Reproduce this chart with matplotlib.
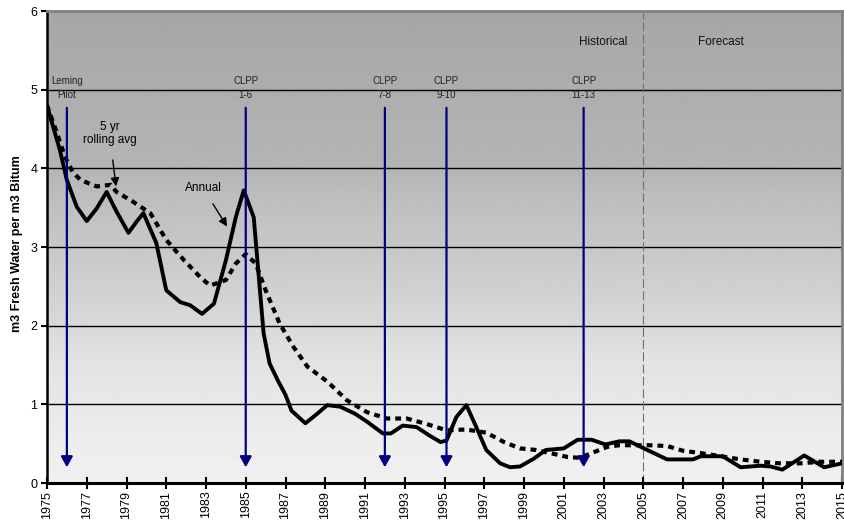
import matplotlib
matplotlib.use('Agg')
import matplotlib.pyplot as plt
import numpy as np

plt.rcParams['font.family'] = ['Liberation Sans', 'DejaVu Sans']

# annual fresh water use
annual_years = [1975.0, 1975.65, 1976.0, 1976.5, 1977.0, 1977.5, 1978.0, 1978.5, 1979.1, 1979.5,
                1979.85, 1980.5, 1981.0, 1981.7, 1982.2, 1982.8, 1983.4, 1984.0, 1984.5, 1984.9,
                1985.4, 1985.9, 1986.2, 1986.6, 1987.0, 1987.3, 1988.0, 1988.5, 1989.1, 1989.75,
                1990.5, 1991.1, 1991.9, 1992.3, 1992.9, 1993.6, 1994.2, 1994.8, 1995.1, 1995.6,
                1996.1, 1996.6, 1997.1, 1997.8, 1998.3, 1998.8, 1999.5, 2000.1, 2001.0, 2001.7,
                2002.4, 2003.1, 2003.8, 2004.3, 2005.2, 2006.2, 2007.5, 2007.9, 2009.0, 2009.9,
                2010.9, 2011.4, 2012.0, 2013.1, 2014.1, 2015.0]
annual_vals = [4.80, 4.23, 3.85, 3.51, 3.33, 3.49, 3.70, 3.45, 3.18, 3.32,
               3.43, 3.05, 2.45, 2.30, 2.26, 2.15, 2.28, 2.83, 3.38, 3.72,
               3.38, 1.90, 1.52, 1.31, 1.12, 0.92, 0.76, 0.86, 0.99, 0.97,
               0.88, 0.78, 0.63, 0.63, 0.73, 0.71, 0.61, 0.52, 0.54, 0.84,
               0.99, 0.71, 0.42, 0.25, 0.20, 0.21, 0.31, 0.42, 0.44, 0.55,
               0.55, 0.49, 0.53, 0.53, 0.42, 0.30, 0.30, 0.34, 0.34, 0.20,
               0.22, 0.21, 0.17, 0.35, 0.20, 0.25]

# 5 yr rolling average
roll_years = [1975.0, 1975.5, 1975.9, 1976.3, 1976.7, 1977.5, 1978.2, 1978.5, 1979.3, 1980.2,
              1981.0, 1981.9, 1982.7, 1983.2, 1984.0, 1984.5, 1985.0, 1985.5, 1986.0, 1986.7,
              1987.4, 1988.1, 1989.1, 1990.1, 1991.1, 1992.1, 1993.1, 1994.1, 1995.1, 1996.1,
              1997.1, 1998.0, 1998.8, 1999.6, 2000.5, 2001.2, 2001.8, 2002.5, 2003.2, 2003.8,
              2004.5, 2005.3, 2006.2, 2007.0, 2007.9, 2008.9, 2009.9, 2010.9, 2011.9, 2012.9,
              2013.9, 2015.0]
roll_vals = [4.80, 4.45, 4.15, 3.95, 3.85, 3.77, 3.79, 3.70, 3.58, 3.43,
             3.09, 2.83, 2.62, 2.51, 2.58, 2.79, 2.91, 2.79, 2.45, 2.03,
             1.73, 1.48, 1.29, 1.05, 0.90, 0.82, 0.82, 0.75, 0.67, 0.68,
             0.64, 0.52, 0.44, 0.42, 0.37, 0.33, 0.32, 0.39, 0.46, 0.48,
             0.48, 0.48, 0.47, 0.41, 0.38, 0.34, 0.30, 0.27, 0.25, 0.25,
             0.27, 0.27]

# project start-ups
event_years = [1976, 1985, 1992, 1995.1, 2002]
event_labels = ['Leming\nPilot', 'CLPP\n1-6', 'CLPP\n7-8', 'CLPP\n9-10', 'CLPP\n11-13']

fig = plt.figure(figsize=(8.44, 5.2), dpi=100)
ax = fig.add_axes([47 / 844, 1 - 483 / 520, 795 / 844, 472 / 520])

# grey gradient background
levels = np.linspace(0, 6, 300)
shade = np.interp(levels, [0, 0.5, 1.5, 2.5, 3.6, 4, 6], [0.94, 0.93, 0.89, 0.815, 0.745, 0.71, 0.65])
ax.imshow(shade[:, None], extent=[1975, 2015, 0, 6], origin='lower', aspect='auto',
          cmap='gray', vmin=0, vmax=1, zorder=0)

for v in range(1, 6):
    ax.axhline(v, color='black', lw=1, zorder=1)

ax.axvline(2005, color='#707070', lw=0.8, ls=(0, (8, 3)), zorder=1)

ax.plot(roll_years, roll_vals, color='black', lw=3, ls=(0, (1.4, 1.2)), zorder=3)
ax.plot(annual_years, annual_vals, color='black', lw=2.8, zorder=4,
        solid_joinstyle='round', solid_capstyle='round')

for x, lab in zip(event_years, event_labels):
    ax.annotate('', xy=(x, 0.2), xytext=(x, 4.77),
                arrowprops=dict(arrowstyle='-|>,head_length=0.45,head_width=0.25',
                                color='#000080', lw=1.6, mutation_scale=14,
                                shrinkA=0, shrinkB=0), zorder=5)
    ax.text(x, 5.02, lab, ha='center', va='center', fontsize=7, color='#222222',
            linespacing=1.6, zorder=6)

ax.text(2003.0, 5.6, 'Historical', ha='center', va='center', fontsize=8.5, color='#111111')
ax.text(2008.9, 5.6, 'Forecast', ha='center', va='center', fontsize=8.5, color='#111111')

ax.annotate('5 yr\nrolling avg', xy=(1978.47, 3.77), xytext=(1978.15, 4.44),
            ha='center', va='center', fontsize=8.5, linespacing=1.1,
            arrowprops=dict(arrowstyle='-|>,head_length=0.5,head_width=0.25',
                            color='black', lw=1, mutation_scale=10, shrinkA=8, shrinkB=0))
ax.annotate('Annual', xy=(1984.06, 3.26), xytext=(1982.85, 3.75),
            ha='center', va='center', fontsize=8.5,
            arrowprops=dict(arrowstyle='-|>,head_length=0.5,head_width=0.25',
                            color='black', lw=1, mutation_scale=10, shrinkA=6, shrinkB=0))

ax.set_xlim(1975, 2015)
ax.set_ylim(0, 6)
ax.set_xticks(range(1975, 2016, 2))
ax.set_xticklabels([str(y) for y in range(1975, 2016, 2)], rotation=90, fontsize=9)
ax.set_yticks(range(0, 7))
ax.set_yticklabels([str(v) for v in range(0, 7)], fontsize=9)
ax.tick_params(axis='x', direction='inout', length=9, width=1.5, pad=1)
ax.tick_params(axis='y', direction='out', length=4, width=1.5, pad=3)

ax.spines['left'].set_linewidth(1.8)
ax.spines['bottom'].set_linewidth(2.2)
ax.spines['top'].set_color('#808080')
ax.spines['top'].set_linewidth(2)
ax.spines['right'].set_color('#808080')
ax.spines['right'].set_linewidth(2)

fig.text(17 / 844, 1 - 244 / 520, 'm3 Fresh Water per m3 Bitum', rotation=90,
         ha='center', va='center', fontsize=9, fontweight='bold')

fig.savefig('out.png', dpi=100)
